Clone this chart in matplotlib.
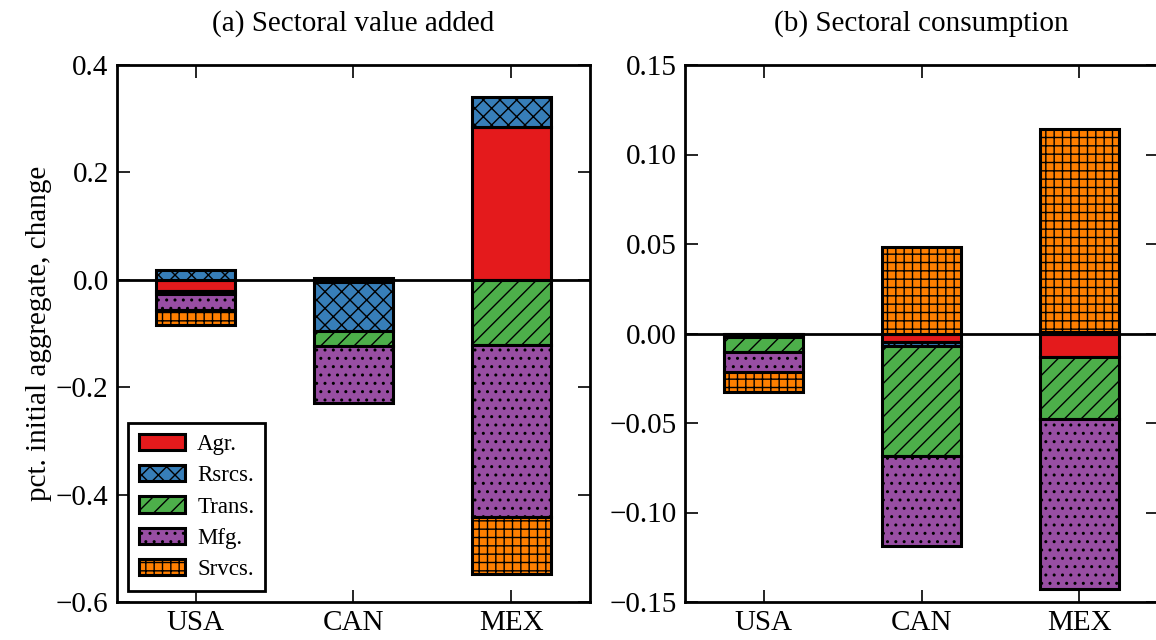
import numpy as np
import matplotlib
matplotlib.use("Agg")
import matplotlib.pyplot as plt

plt.rcParams['font.family'] = ['Liberation Serif', 'DejaVu Serif']
plt.rcParams['hatch.linewidth'] = 1.0
plt.rcParams['axes.unicode_minus'] = True

countries = ["USA", "CAN", "MEX"]
sectors = ["Agr.", "Rsrcs.", "Trans.", "Mfg.", "Srvcs."]
colors = ["#e41a1c", "#377eb8", "#4daf4a", "#984ea3", "#ff7f00"]
hatches = ["", "xx", "//", "..", "++"]

# change in sectoral value added (one list per sector, entries per country)
va_agr = [-0.020, -0.005, 0.285]
va_rsrcs = [0.018, -0.091, 0.056]
va_trans = [-0.007, -0.027, -0.122]
va_mfg = [-0.030, -0.107, -0.320]
va_srvcs = [-0.028, 0.003, -0.105]

# change in sectoral consumption
c_agr = [-0.002, -0.005, -0.013]
c_rsrcs = [0.000, -0.002, 0.001]
c_trans = [-0.0085, -0.0616, -0.0345]
c_mfg = [-0.011, -0.0503, -0.095]
c_srvcs = [-0.011, 0.0485, 0.1135]

va_ticks = [0.4, 0.2, 0.0, -0.2, -0.4, -0.6]
c_ticks = [0.15, 0.10, 0.05, 0.00, -0.05, -0.10, -0.15]

FS = 21


def fmt(v, nd):
    s = f"{abs(v):.{nd}f}"
    return ("\u2212" + s) if v < 0 else s


def stacked(ax, series):
    """Positive parts stack upward from zero, negative parts downward."""
    x = np.arange(len(countries))
    pos = np.zeros(len(countries))
    neg = np.zeros(len(countries))
    for vals, col, h, lab in zip(series, colors, hatches, sectors):
        vals = np.asarray(vals, dtype=float)
        bottoms = np.where(vals >= 0, pos, neg)
        ax.bar(x, vals, width=0.5, bottom=bottoms, color=col,
               edgecolor="black", linewidth=2.2, hatch=h, label=lab,
               zorder=2)
        pos = pos + np.where(vals >= 0, vals, 0)
        neg = neg + np.where(vals < 0, vals, 0)
    ax.axhline(0, color="black", linewidth=2.0, zorder=1)
    ax.set_xlim(-0.5, 2.5)
    ax.set_xticks(x)
    ax.set_xticklabels(countries)
    ax.tick_params(direction="in", length=9, width=1.2, top=True, right=True,
                   labelsize=FS, pad=6)
    for sp in ax.spines.values():
        sp.set_linewidth(2.0)


fig = plt.figure(figsize=(11.56, 6.4), dpi=100)
ax1 = fig.add_axes([117 / 1156, 1 - 602 / 640, 473 / 1156, 537 / 640])
ax2 = fig.add_axes([685 / 1156, 1 - 602 / 640, 473 / 1156, 537 / 640])

stacked(ax1, [va_agr, va_rsrcs, va_trans, va_mfg, va_srvcs])
ax1.set_ylim(-0.6, 0.4)
ax1.set_yticks(va_ticks)
ax1.set_yticklabels([fmt(v, 1) for v in va_ticks])
ax1.set_title("(a) Sectoral value added", fontsize=FS, pad=25)
ax1.set_ylabel("pct. initial aggregate, change", fontsize=FS, labelpad=3)
leg = ax1.legend(loc="lower left", fontsize=16.5, fancybox=False,
                 framealpha=1, edgecolor="black", handlelength=2.0,
                 handleheight=0.7, handletextpad=0.55, labelspacing=0.45,
                 borderpad=0.45, borderaxespad=0.5)
leg.get_frame().set_linewidth(2.0)

stacked(ax2, [c_agr, c_rsrcs, c_trans, c_mfg, c_srvcs])
ax2.set_ylim(-0.15, 0.15)
ax2.set_yticks(c_ticks)
ax2.set_yticklabels([fmt(v, 2) for v in c_ticks])
ax2.set_title("(b) Sectoral consumption", fontsize=FS, pad=25)

fig.savefig("out.png", dpi=100)
